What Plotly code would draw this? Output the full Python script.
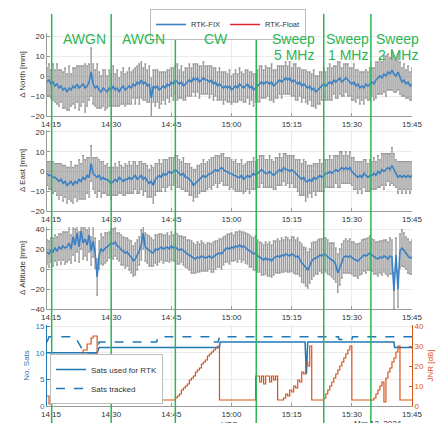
import pandas as pd
import plotly.graph_objects as go

DAY = "2024-03-13 "
START = DAY + "14:14:00"
X_RANGE = [DAY + "14:14:00", DAY + "15:45:00"]

# ---- position deviations, one value every 30 s from 14:14:00 to 15:45:00 ----
north = [-3, -2, -4, -3, -5, -4, -6, -5, -7, -6,
         -8, -6, -7, -5, -6, -4, -6, -5, -4, -6,
         -5, -3, 2, -4, -6, -5, -7, -8, -6, -7,
         -8, -6, -7, -5, -7, -6, -8, -6, -5, -7,
         -6, -5, -6, -4, -5, -3, -4, -2, -4, -3,
         -5, -4, -11, -5, -6, -5, -7, -6, -5, -6,
         -4, -5, -3, -4, -2, -3, -4, -3, -5, -4,
         -3, -2, -3, -1, -2, -1, -3, -2, -1, -2,
         -2, -3, -2, -4, -3, -5, -4, -5, -6, -5,
         -6, -5, -7, -6, -5, -6, -4, -5, -6, -5,
         -4, -6, -5, -7, -6, -5, -4, -3, -4, -3,
         -3, -4, -3, -5, -4, -3, -2, -3, -2, -1,
         -2, -1, -3, -2, -3, -4, -3, -5, -4, -5,
         -6, -5, -7, -6, -8, -7, -6, -5, -4, -5,
         -4, -3, -4, -2, -3, -2, -1, -3, -2, -1,
         -2, -3, -4, -3, -5, -4, -6, -5, -6, -4,
         -5, -4, -3, -4, -2, -1, 0, -1, 1, 0,
         2, 1, 3, 1, 0, 2, -1, -3, -2, -4,
         -3, -5, -4]
north_err = [7, 8, 7, 9, 8, 10, 9, 8, 9, 10,
             9, 11, 8, 9, 10, 9, 11, 10, 9, 12,
             10, 9, 12, 10, 9, 11, 9, 8, 9, 10,
             8, 9, 8, 10, 8, 9, 7, 8, 9, 8,
             8, 9, 8, 7, 9, 8, 10, 9, 8, 9,
             8, 9, 10, 8, 9, 8, 9, 8, 7, 8,
             7, 8, 7, 8, 7, 9, 7, 8, 7, 8,
             7, 8, 7, 7, 8, 7, 8, 7, 8, 7,
             7, 8, 7, 8, 7, 7, 8, 7, 8, 7,
             7, 8, 7, 7, 8, 7, 8, 7, 7, 8,
             7, 8, 7, 8, 7, 8, 9, 8, 7, 8,
             7, 8, 9, 8, 7, 8, 7, 8, 7, 8,
             7, 8, 7, 8, 9, 8, 7, 8, 7, 8,
             8, 7, 8, 9, 8, 7, 8, 7, 8, 7,
             8, 9, 8, 7, 8, 9, 8, 7, 8, 7,
             8, 7, 8, 9, 8, 7, 8, 7, 8, 7,
             7, 8, 7, 8, 9, 8, 9, 8, 9, 10,
             9, 8, 10, 9, 8, 9, 8, 7, 8, 7,
             8, 7, 8]

east = [-1, -2, -2, -3, -3, -4, -5, -4, -6, -5,
        -7, -6, -5, -7, -5, -6, -4, -5, -3, -4,
        -2, -3, 4, -1, -2, -3, -2, -4, -3, -4,
        -4, -5, -6, -5, -4, -5, -3, -4, -5, -4,
        -4, -3, -4, -3, -2, -4, -3, -2, -4, -3,
        -5, -6, -5, -7, -4, -3, -2, -3, -1, -2,
        -1, 0, -1, 0, 1, 0, -1, -2, -1, -3,
        -3, -4, -5, -7, -6, -5, -4, -3, -2, -3,
        -2, -1, -1, 0, 1, 0, 1, 2, 1, 0,
        0, -1, -1, -2, -2, -3, -3, -2, -4, -3,
        -2, -3, -2, -1, -2, -1, 0, 1, 0, -1,
        -1, 0, -1, -2, -1, 0, 1, 0, 2, 1,
        1, 0, 1, 0, -1, -2, -3, -4, -3, -5,
        -5, -4, -5, -3, -4, -3, -2, -3, -2, -1,
        -1, 0, -1, 0, 1, 0, 1, 2, 1, 2,
        1, 2, 0, -1, -2, -3, -2, -3, -1, -2,
        -3, -2, -2, -1, -2, 0, -1, 1, 0, 1,
        2, 1, 3, 1, -1, -3, -2, -3, -2, -3,
        -2, -3, -2]
east_err = [6, 7, 7, 8, 7, 8, 9, 8, 9, 8,
            9, 8, 10, 9, 8, 9, 10, 9, 11, 10,
            9, 10, 9, 8, 9, 10, 8, 9, 8, 7,
            8, 7, 8, 7, 8, 7, 8, 7, 7, 8,
            7, 8, 7, 8, 7, 7, 8, 7, 8, 7,
            8, 7, 8, 9, 8, 7, 8, 7, 7, 8,
            7, 7, 8, 7, 7, 8, 7, 7, 8, 7,
            7, 8, 7, 8, 7, 8, 7, 7, 8, 7,
            7, 7, 8, 7, 7, 8, 7, 7, 8, 7,
            7, 8, 7, 7, 8, 7, 7, 8, 7, 7,
            7, 8, 7, 8, 7, 7, 8, 7, 8, 7,
            7, 8, 7, 7, 8, 7, 8, 7, 7, 8,
            7, 8, 7, 8, 7, 8, 9, 8, 9, 10,
            8, 7, 8, 7, 8, 7, 8, 7, 8, 7,
            7, 8, 7, 8, 7, 8, 9, 8, 7, 8,
            7, 8, 7, 8, 7, 8, 7, 8, 7, 8,
            7, 8, 7, 8, 7, 8, 7, 8, 9, 8,
            7, 8, 9, 8, 7, 8, 7, 8, 7, 8,
            7, 8, 7]

altitude = [17, 15, 19, 17, 21, 18, 22, 20, 23, 21,
            22, 26, 20, 32, 24, 36, 22, 38, 26, 30,
            24, 34, 18, 28, 16, -8, 14, 20, 18, 21,
            22, 24, 26, 25, 27, 23, 22, 19, 18, 16,
            17, 14, 12, 8, 10, 14, 18, 24, 36, 22,
            20, 18, 17, 16, 20, 19, 21, 22, 20, 21,
            22, 20, 23, 21, 22, 20, 19, 20, 18, 17,
            15, 14, 12, 11, 10, 12, 11, 13, 12, 11,
            12, 13, 11, 12, 14, 15, 16, 15, 18, 20,
            21, 20, 22, 21, 23, 22, 24, 22, 23, 21,
            20, 18, 17, 15, 16, 13, 12, 10, 9, 11,
            9, 10, 8, 11, 12, 13, 12, 14, 13, 15,
            14, 13, 15, 14, 12, 13, 10, 6, 4, 2,
            -1, 3, 8, 10, 11, 12, 14, 13, 15, 14,
            12, 10, 9, 8, 4, -4, 2, 8, 12, 13,
            12, 13, 11, 10, 9, 8, 10, 12, 14, 13,
            15, 16, 14, 12, 11, 10, 12, 11, 13, 12,
            10, 13, 12, -22, 14, -20, 18, 21, 19, 16,
            13, 11, 12]
altitude_err = [12, 13, 12, 14, 13, 14, 13, 15, 14, 16,
                15, 17, 14, 18, 16, 19, 15, 18, 16, 17,
                15, 17, 14, 16, 15, 18, 14, 15, 14, 15,
                14, 13, 14, 15, 14, 13, 14, 15, 14, 15,
                14, 15, 16, 15, 16, 15, 14, 15, 16, 14,
                14, 15, 14, 13, 14, 15, 14, 13, 14, 13,
                14, 13, 14, 13, 14, 15, 14, 13, 14, 15,
                14, 15, 16, 15, 14, 15, 14, 15, 14, 13,
                14, 13, 14, 15, 14, 13, 14, 15, 14, 13,
                14, 15, 14, 13, 14, 15, 14, 15, 14, 15,
                15, 16, 15, 16, 17, 16, 15, 16, 15, 16,
                16, 17, 16, 17, 16, 17, 16, 17, 16, 17,
                17, 16, 17, 18, 17, 18, 17, 19, 18, 19,
                18, 17, 18, 17, 16, 17, 16, 17, 16, 17,
                17, 16, 17, 18, 17, 19, 18, 17, 16, 17,
                16, 17, 16, 17, 16, 17, 16, 17, 16, 17,
                16, 17, 16, 17, 16, 17, 16, 17, 16, 17,
                17, 18, 17, 18, 17, 18, 17, 18, 17, 16,
                17, 16, 17]

# ---- jammer-to-noise ratio [dB], every 30 s ----
jnr = [5, 1, 4, 4, 7, 7, 9, 9, 12, 12,
       15, 15, 18, 18, 21, 21, 25, 25, 28, 28,
       31, 31, 34, 35, 35, 3, 3, 3, 3, 3,
       3, 3, 4, 5, 6, 7, 8, 9, 11, 12,
       13, 14, 16, 17, 18, 20, 21, 22, 24, 24,
       25, 25, 25, 25, 25, 3, 3, 3, 3, 3,
       3, 3, 3, 3, 4, 5, 6, 8, 9, 10,
       11, 13, 14, 15, 17, 18, 19, 21, 22, 23,
       25, 26, 27, 28, 29, 30, 3, 3, 3, 3,
       3, 3, 3, 3, 3, 3, 3, 3, 3, 3,
       3, 3, 3, 3, 15, 15, 12, 15, 11, 15,
       15, 12, 15, 13, 15, 3, 3, 3, 4, 6,
       5, 8, 7, 10, 9, 13, 12, 17, 16, 22,
       20, 30, 3, 3, 3, 3, 3, 3, 4, 6,
       8, 10, 12, 14, 16, 18, 20, 22, 24, 26,
       28, 30, 3, 3, 3, 3, 3, 3, 3, 3,
       3, 3, 3, 4, 6, 8, 10, 12, 2, 14,
       17, 19, 22, 24, 27, 30, 3, 3, 3, 3,
       3, 3, 3]

# ---- satellite counts (breakpoints) ----
sats_used_t = ["14:14:00", "14:26:30", "14:27:00", "14:57:00", "14:57:10",
               "15:18:20", "15:18:40", "15:19:00", "15:40:30", "15:40:40", "15:45:00"]
sats_used_v = [10, 10, 11, 11, 12, 12, 6, 12, 12, 11, 11]
sats_trk_t = ["14:14:00", "14:14:30", "14:21:00", "14:22:30", "14:23:00", "14:26:30",
              "14:27:00", "14:41:20", "14:41:40", "14:55:10", "14:55:20", "14:56:40",
              "14:57:00", "15:26:40", "15:26:50", "15:30:00", "15:30:10", "15:45:00"]
sats_trk_v = [12, 13, 13, 11, 10, 10, 12, 12, 13, 13, 12, 12, 13, 13, 12.5, 12.5, 13, 13]

# ---- interference events ----
event_t = ["14:15:10", "14:30:00", "14:46:00", "15:06:10", "15:23:00", "15:34:45"]
label_t = ["14:23:15", "14:38:00", "14:56:10", "15:15:30", "15:29:00", "15:41:30"]
label_l1 = ["AWGN", "AWGN", "CW", "Sweep", "Sweep", "Sweep"]
label_l2 = ["", "", "", "5 MHz", "1 MHz", "2 MHz"]

times = pd.date_range(START, periods=len(north), freq="30s")
used_t = [DAY + s for s in sats_used_t]
trk_t = [DAY + s for s in sats_trk_t]

FONT = "Liberation Sans, Arial, sans-serif"
BLUE = "#3a80c3"
SATBLUE = "#2278b5"
ORANGE = "#d95319"
GREEN = "#2db552"
GRAY_ERR = "rgba(130,130,130,0.8)"

fig = go.Figure()

panels = [(north, north_err, "x", "y"), (east, east_err, "x2", "y2"),
          (altitude, altitude_err, "x3", "y3")]
for k, (vals, errs, xa, ya) in enumerate(panels):
    fig.add_trace(go.Scatter(
        x=times, y=vals, mode="markers", xaxis=xa, yaxis=ya,
        marker=dict(size=1, color="rgba(0,0,0,0)"),
        error_y=dict(type="data", array=errs, color=GRAY_ERR, thickness=1.4, width=1),
        showlegend=False, hoverinfo="skip"))
    fig.add_trace(go.Scatter(
        x=times, y=vals, mode="lines", xaxis=xa, yaxis=ya,
        line=dict(color=BLUE, width=1.6), name="RTK-FIX",
        showlegend=(k == 0), legend="legend"))

fig.add_trace(go.Scatter(x=[None], y=[None], mode="lines", xaxis="x", yaxis="y",
                         line=dict(color="#e3262b", width=1.5), name="RTK-Float",
                         legend="legend"))

fig.add_trace(go.Scatter(x=times, y=jnr, mode="lines", xaxis="x4", yaxis="y5",
                         line=dict(color=ORANGE, width=1.2, shape="hv"),
                         showlegend=False, name="JNR"))
fig.add_trace(go.Scatter(x=used_t, y=sats_used_v, mode="lines", xaxis="x4", yaxis="y4",
                         line=dict(color=SATBLUE, width=1.5),
                         name="Sats used for RTK", legend="legend2"))
fig.add_trace(go.Scatter(x=trk_t, y=sats_trk_v, mode="lines", xaxis="x4", yaxis="y4",
                         line=dict(color=SATBLUE, width=1.5, dash="dash"),
                         name="Sats tracked", legend="legend2"))

H_PLOT = 423 - 10 - 17


def dom(top_px, bot_px):
    return [(406 - bot_px) / H_PLOT, (406 - top_px) / H_PLOT]


def ypaper(px):
    return (406 - px) / H_PLOT


xcommon = dict(type="date", range=X_RANGE, domain=[0, 1], tickformat="%H:%M",
               tick0=DAY + "14:15:00", dtick=15 * 60 * 1000, automargin=False,
               showgrid=True, gridcolor="#ebebeb", gridwidth=1,
               showline=True, linecolor="#9a9a9a", linewidth=1,
               ticks="inside", ticklen=3, tickcolor="#9a9a9a",
               tickfont=dict(size=8, color="#333333"), zeroline=False)
ycommon = dict(showgrid=True, gridcolor="#ebebeb", gridwidth=1, automargin=False,
               showline=True, linecolor="#9a9a9a", linewidth=1,
               ticks="inside", ticklen=3, tickcolor="#9a9a9a",
               tickfont=dict(size=8, color="#333333"), zeroline=False,
               title=dict(font=dict(size=8, color="#333333"), standoff=4))

layout = dict(
    width=440, height=423,
    margin=dict(l=47, r=28, t=10, b=17, autoexpand=False),
    paper_bgcolor="white", plot_bgcolor="white",
    font=dict(family=FONT, size=8, color="#333333"),
    xaxis=dict(xcommon, anchor="y"),
    xaxis2=dict(xcommon, anchor="y2"),
    xaxis3=dict(xcommon, anchor="y3"),
    xaxis4=dict(xcommon, anchor="y4"),
    yaxis=dict(ycommon, domain=dom(33, 116), range=[-20, 21.5],
               tickvals=[-20, -10, 0, 10, 20], anchor="x",
               title=dict(ycommon["title"], text="Δ North [mm]")),
    yaxis2=dict(ycommon, domain=dom(130, 211), range=[-20, 21],
                tickvals=[-20, -10, 0, 10, 20], anchor="x2",
                title=dict(ycommon["title"], text="Δ East [mm]")),
    yaxis3=dict(ycommon, domain=dom(227, 309), range=[-40, 42],
                tickvals=[-40, -20, 0, 20, 40], anchor="x3",
                title=dict(ycommon["title"], text="Δ Altitude [mm]")),
    yaxis4=dict(ycommon, domain=dom(325, 406), range=[0, 15.2],
                tickvals=[0, 5, 10, 15], anchor="x4",
                linecolor=SATBLUE, tickcolor=SATBLUE,
                tickfont=dict(size=8, color=SATBLUE),
                title=dict(text="No. Sats", font=dict(size=8, color=SATBLUE), standoff=4)),
    yaxis5=dict(overlaying="y4", side="right", anchor="x4", range=[0, 40.5],
                tickvals=[0, 10, 20, 30, 40], showgrid=False, zeroline=False,
                showline=True, linecolor=ORANGE, linewidth=1, automargin=False,
                ticks="inside", ticklen=3, tickcolor=ORANGE,
                tickfont=dict(size=8, color=ORANGE),
                title=dict(text="JNR [dB]", font=dict(size=8, color=ORANGE), standoff=4)),
    legend=dict(orientation="h", x=(228 - 47) / 365, y=ypaper(9), xanchor="center",
                yanchor="top", bgcolor="white", bordercolor="#bdbdbd", borderwidth=1,
                font=dict(size=7.5, color="#333333"), itemwidth=30,
                tracegroupgap=0),
    legend2=dict(orientation="v", x=(50 - 47) / 365, y=ypaper(354), xanchor="left",
                 yanchor="top", bgcolor="white", bordercolor="#bdbdbd", borderwidth=1,
                 font=dict(size=8, color="#333333"), itemwidth=30,
                 tracegroupgap=0),
    showlegend=True,
)
fig.update_layout(**layout)

for t in event_t:
    fig.add_shape(type="line", xref="x", yref="paper", x0=DAY + t, x1=DAY + t,
                  y0=ypaper(423), y1=ypaper(14), line=dict(color=GREEN, width=1.5),
                  layer="above")

for t, l1, l2 in zip(label_t, label_l1, label_l2):
    fig.add_annotation(x=DAY + t, xref="x", y=ypaper(38.5), yref="paper", text=l1,
                       showarrow=False, xanchor="center", yanchor="middle",
                       font=dict(size=14, color=GREEN, family=FONT))
    if l2:
        fig.add_annotation(x=DAY + t, xref="x", y=ypaper(55), yref="paper", text=l2,
                           showarrow=False, xanchor="center", yanchor="middle",
                           font=dict(size=14, color=GREEN, family=FONT))

fig.add_annotation(x=0.5, xref="paper", y=ypaper(417.5), yref="paper", text="UTC",
                   showarrow=False, xanchor="center", yanchor="top",
                   font=dict(size=8, color="#333333"))
fig.add_annotation(x=(404 - 47) / 365, xref="paper", y=ypaper(417), yref="paper",
                   text="Mar 13, 2024", showarrow=False, xanchor="right", yanchor="top",
                   font=dict(size=8, color="#333333"))

fig.write_html("out.html", config={"displayModeBar": False},
               post_script="document.body.style.margin='0';")
